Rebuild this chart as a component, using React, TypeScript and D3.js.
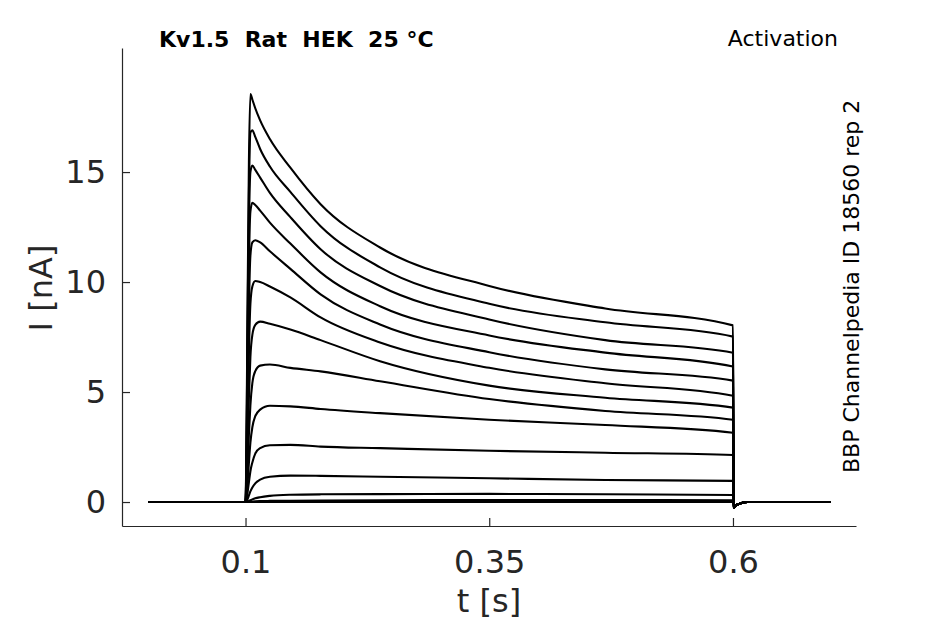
import * as d3 from 'd3';
import React, { useEffect, useRef } from 'react';

// sample times (s) during the pulse
const times = [0, 0.1, 0.101, 0.102, 0.1035, 0.105, 0.107, 0.11, 0.115, 0.125, 0.146, 0.177, 0.238, 0.35, 0.469, 0.6];
// after the step back at 0.6 s
const tailTimes = [0.6008, 0.603, 0.608, 0.615, 0.7];
const tailValues = [-0.25, -0.15, -0.06, 0, 0];

// currents in nA, one array per voltage step
const trace1 = [0, 0, 3.0, 8.5, 15.5, 18.55, 18.3, 17.9, 17.35, 16.5, 15.2, 13.54, 11.57, 9.82, 8.8, 8.03];
const trace2 = [0, 0, 2.5, 7.5, 14.0, 16.8, 16.9, 16.6, 16.05, 15.25, 14.1, 12.54, 10.67, 9.01, 8.17, 7.52];
const trace3 = [0, 0, 2.0, 6.5, 12.5, 15.0, 15.3, 15.1, 14.75, 14.05, 12.95, 11.49, 9.82, 8.3, 7.36, 6.79];
const trace4 = [0, 0, 1.6, 5.5, 10.8, 13.2, 13.6, 13.5, 13.25, 12.7, 11.75, 10.44, 8.9, 7.57, 6.79, 6.16];
const trace5 = [0, 0, 1.2, 4.3, 8.8, 11.2, 11.8, 11.9, 11.8, 11.4, 10.6, 9.44, 8.07, 6.81, 6.03, 5.52];
const trace6 = [0, 0, 0.9, 3.2, 6.8, 9.0, 9.8, 10.05, 10.0, 9.8, 9.3, 8.39, 7.25, 6.1, 5.4, 4.83];
const trace7 = [0, 0, 0.6, 2.2, 4.8, 6.6, 7.6, 8.05, 8.2, 8.1, 7.84, 7.36, 6.4, 5.29, 4.74, 4.29];
const trace8 = [0, 0, 0.4, 1.4, 3.1, 4.4, 5.4, 5.95, 6.2, 6.25, 6.1, 5.94, 5.49, 4.68, 4.14, 3.74];
const trace9 = [0, 0, 0.2, 0.8, 1.8, 2.7, 3.4, 3.9, 4.2, 4.38, 4.35, 4.23, 4.04, 3.74, 3.5, 3.15];
const trace10 = [0, 0, 0.1, 0.4, 0.9, 1.4, 1.8, 2.2, 2.45, 2.58, 2.6, 2.52, 2.45, 2.33, 2.24, 2.14];
const trace11 = [0, 0, 0.03, 0.12, 0.3, 0.48, 0.66, 0.85, 1.02, 1.15, 1.2, 1.19, 1.15, 1.08, 1.0, 0.96];
const trace12 = [0, 0, 0, 0.02, 0.05, 0.08, 0.12, 0.17, 0.22, 0.28, 0.33, 0.35, 0.36, 0.37, 0.35, 0.32];
const trace13 = [0, 0, 0, 0, 0, 0.01, 0.02, 0.03, 0.04, 0.05, 0.06, 0.07, 0.08, 0.09, 0.09, 0.08];
const trace14 = [0, 0, 0, 0, 0, 0, 0, 0, 0, 0, 0, 0, 0, 0, 0, 0];

const xTicks = [0.1, 0.35, 0.6];
const yTicks = [0, 5, 10, 15];

const W = 945;
const H = 624;

const App = () => {
	const svgRef = useRef(null);

	useEffect(() => {
		document.body.style.margin = '0';
		const traces = [trace1, trace2, trace3, trace4, trace5, trace6, trace7,
			trace8, trace9, trace10, trace11, trace12, trace13, trace14];

		const svg = d3.select(svgRef.current);
		const font = 'DejaVu Sans, sans-serif';
		const axisColor = '#262626';

		const x = d3.scaleLinear()
			.domain([-0.0267, 0.7262])
			.range([122, 856]);

		const y = d3.scaleLinear()
			.domain([-1.09, 20.64])
			.range([526, 48]);

		const line = d3.line()
			.x((d) => x(d[0]))
			.y((d) => y(d[1]))
			.curve(d3.curveMonotoneX);

		svg.append('g')
			.selectAll('path')
			.data(traces)
			.join('path')
			.attr('d', (tr) => {
				const pts = times.map((t, i) => [t, tr[i]]);
				tailTimes.forEach((t, i) => pts.push([t, tailValues[i]]));
				return line(pts);
			})
			.attr('fill', 'none')
			.attr('stroke', '#000')
			.attr('stroke-width', 2.1)
			.attr('stroke-linejoin', 'round');

		// x axis
		const gx = svg.append('g')
			.attr('transform', 'translate(0,526)')
			.call(d3.axisBottom(x).tickValues(xTicks).tickFormat(d3.format('')).tickSizeInner(-8).tickSizeOuter(0).tickPadding(24));
		gx.selectAll('text')
			.attr('fill', axisColor)
			.style('font-family', font)
			.style('font-size', '32px');

		// y axis
		const gy = svg.append('g')
			.attr('transform', 'translate(122,0)')
			.call(d3.axisLeft(y).tickValues(yTicks).tickSizeInner(-8).tickSizeOuter(0).tickPadding(16));
		gy.selectAll('text')
			.attr('fill', axisColor)
			.style('font-family', font)
			.style('font-size', '32px');

		svg.selectAll('.domain, .tick line')
			.attr('stroke', axisColor)
			.attr('stroke-width', 1.2);

		svg.append('text')
			.attr('x', 489)
			.attr('y', 612)
			.attr('text-anchor', 'middle')
			.attr('fill', axisColor)
			.style('font-family', font)
			.style('font-size', '32px')
			.text('t [s]');

		svg.append('text')
			.attr('transform', 'translate(52,288) rotate(-90)')
			.attr('text-anchor', 'middle')
			.attr('fill', axisColor)
			.style('font-family', font)
			.style('font-size', '32px')
			.text('I [nA]');

		svg.append('text')
			.attr('x', 159)
			.attr('y', 47)
			.attr('fill', '#000')
			.style('font-family', font)
			.style('font-size', '22px')
			.style('font-weight', 'bold')
			.style('white-space', 'pre')
			.text('Kv1.5  Rat  HEK  25 °C');

		svg.append('text')
			.attr('x', 838)
			.attr('y', 46)
			.attr('text-anchor', 'end')
			.attr('fill', '#000')
			.style('font-family', font)
			.style('font-size', '22px')
			.text('Activation');

		svg.append('text')
			.attr('transform', 'translate(859,473) rotate(-90)')
			.attr('text-anchor', 'start')
			.attr('fill', '#000')
			.style('font-family', font)
			.style('font-size', '22px')
			.text('BBP Channelpedia ID 18560 rep 2');

		return () => {
			svg.selectAll('*').remove();
		};
	}, []);

	return (
		<svg ref={svgRef} width={W} height={H} style={{ display: 'block', background: '#fff' }} />
	);
};

export default App;
